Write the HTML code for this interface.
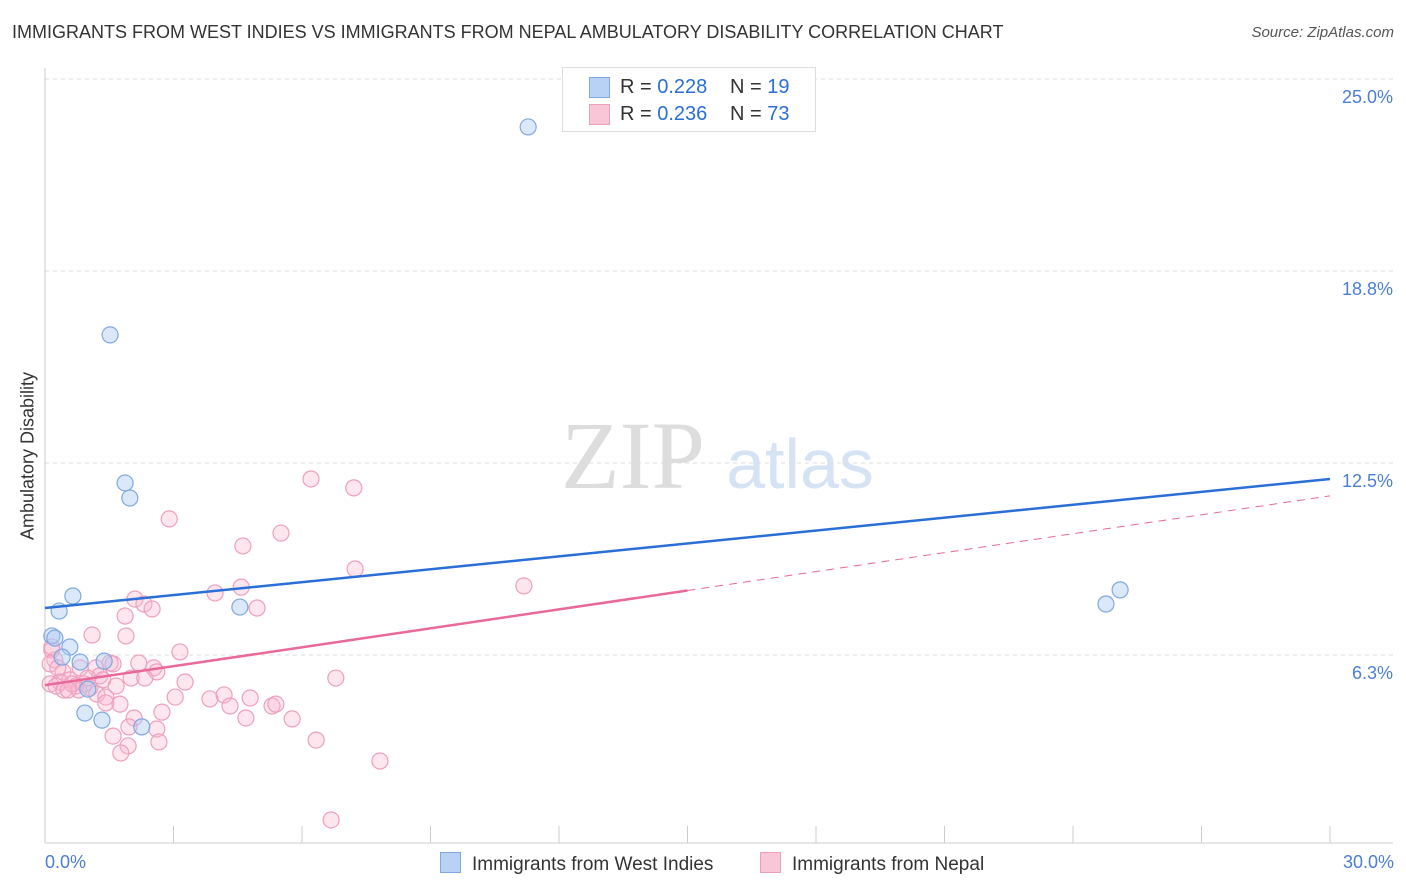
<!DOCTYPE html>
<html><head><meta charset="utf-8">
<style>
body{margin:0;background:#fff;font-family:"Liberation Sans",sans-serif;}
#wrap{position:relative;width:1406px;height:892px;overflow:hidden;}
.t{position:absolute;white-space:nowrap;}
</style></head>
<body>
<div id="wrap">
<div class="t" style="left:12px;top:22px;font-size:18px;color:#333;">IMMIGRANTS FROM WEST INDIES VS IMMIGRANTS FROM NEPAL AMBULATORY DISABILITY CORRELATION CHART</div>
<div class="t" style="right:12px;top:24px;font-size:15px;color:#555;font-style:italic;">Source: ZipAtlas.com</div>
<svg id="svg" width="1406" height="892" style="position:absolute;left:0;top:0;"></svg>
</div>
<script>
const yTicks=[25,18.75,12.5,6.25];
const yTickLabels=["25.0%","18.8%","12.5%","6.3%"];
const xTicks=[0,3,6,9,12,15,18,21,24,27,30];
const blueX=[11.28,1.52,1.87,1.98,0.65,0.33,4.55,0.16,0.23,0.58,0.40,0.82,1.38,1.00,0.93,1.33,2.26,24.77,25.10];
const blueY=[23.44,16.67,11.85,11.36,8.17,7.68,7.81,6.87,6.80,6.51,6.18,6.02,6.05,5.14,4.36,4.13,3.91,7.91,8.37];
const pinkX=[6.21,7.21,2.90,5.51,4.62,7.24,11.18,4.58,3.97,2.10,2.31,2.50,4.95,1.87,1.89,1.10,3.15,0.16,0.23,0.12,1.52,1.59,2.19,2.54,2.61,1.19,0.82,0.42,1.28,2.01,2.33,1.35,0.58,0.35,0.12,0.26,0.72,0.91,1.05,1.66,3.27,6.79,0.44,0.79,1.21,1.42,3.04,3.85,4.18,4.79,1.42,1.75,4.32,5.30,5.39,2.73,2.08,4.69,5.77,1.96,2.61,1.59,6.33,2.66,1.94,1.77,7.82,6.68,0.16,0.30,1.00,0.63,0.54];
const pinkY=[11.98,11.69,10.68,10.22,9.80,9.05,8.50,8.46,8.27,8.07,7.91,7.75,7.78,7.52,6.87,6.90,6.35,6.41,6.09,5.96,5.99,5.96,5.99,5.83,5.70,5.83,5.83,5.70,5.57,5.50,5.50,5.44,5.44,5.37,5.31,5.24,5.24,5.31,5.18,5.24,5.37,5.50,5.11,5.11,4.98,4.88,4.88,4.82,4.95,4.85,4.69,4.65,4.59,4.59,4.65,4.39,4.20,4.20,4.17,3.91,3.84,3.61,3.48,3.42,3.29,3.06,2.80,0.88,6.51,5.83,5.50,5.31,5.11];
const blueTrend=[7.78,11.98];
const pinkTrend=[5.27,11.43];
const pinkSolidEnd=15;

const sx=v=>45+v*(1285/30);
const sy=v=>847-v*30.72;
const svg=document.getElementById('svg');
const NS='http://www.w3.org/2000/svg';
function mk(tag,attrs){const e=document.createElementNS(NS,tag);for(const k in attrs)e.setAttribute(k,attrs[k]);svg.appendChild(e);return e;}

// watermark
let wm=mk('text',{x:633,y:488,'font-size':96,'font-family':'Liberation Serif,serif',fill:'#ddd','text-anchor':'middle'});
wm.textContent='ZIP';


let wm2=mk('text',{x:800,y:488,'font-size':70,'font-family':'Liberation Sans,sans-serif',fill:'#d5e3f5','text-anchor':'middle'});
wm2.textContent='atlas';



yTicks.forEach((v,i)=>{
  let g=mk('line',{x1:45,x2:1393,y1:sy(v),y2:sy(v),stroke:'#ddd','stroke-dasharray':'4,4'});
  
  
  let t=mk('text',{x:1393,y:sy(v)+24,'font-size':18,fill:'#4a7fd4','text-anchor':'end','font-family':'Liberation Sans,sans-serif'});
  t.textContent=yTickLabels[i];
  
  
});
let ax=mk('line',{x1:45,x2:1393,y1:843,y2:843,stroke:'#ccc'});


let ay=mk('line',{x1:45,x2:45,y1:68,y2:843,stroke:'#ccc'});


xTicks.forEach(v=>{
  let l=mk('line',{x1:sx(v),x2:sx(v),y1:826,y2:843,stroke:'#ccc'});
  
  
});

// pink points
pinkX.forEach((x,i)=>{
  let c=mk('circle',{cx:sx(x),cy:sy(pinkY[i]),r:8,fill:'rgba(248,183,206,0.35)',stroke:'#ee9fbd','stroke-width':1.2});
  
  
});
blueX.forEach((x,i)=>{
  let c=mk('circle',{cx:sx(x),cy:sy(blueY[i]),r:8,fill:'rgba(175,205,245,0.45)',stroke:'#7fa8e0','stroke-width':1.2});
  
  
});
// trends
const pAt=x=>pinkTrend[0]+(pinkTrend[1]-pinkTrend[0])*x/30;
let bt=mk('line',{x1:sx(0),y1:sy(blueTrend[0]),x2:sx(30),y2:sy(blueTrend[1]),stroke:'#2a6fd6','stroke-width':2.5});


let pt=mk('line',{x1:sx(0),y1:sy(pAt(0)),x2:sx(pinkSolidEnd),y2:sy(pAt(pinkSolidEnd)),stroke:'#e8699a','stroke-width':2.5});


let pd=mk('line',{x1:sx(pinkSolidEnd),y1:sy(pAt(pinkSolidEnd)),x2:sx(30),y2:sy(pAt(30)),stroke:'#e8699a','stroke-width':1,'stroke-dasharray':'8,6'});


</script>
<div class="t" style="left:28px;top:456px;font-size:18px;color:#333;transform:translate(-50%,-50%) rotate(-90deg);">Ambulatory Disability</div>
<div class="t" style="left:45px;top:852px;font-size:18px;color:#4a7fd4;">0.0%</div>
<div class="t" style="right:12px;top:852px;font-size:18px;color:#4a7fd4;">30.0%</div>
<div style="position:absolute;left:562px;top:67px;width:252px;height:63px;border:1px solid #ddd;background:#fff;font-size:20px;color:#333;">
 <div style="position:absolute;left:26px;top:8px;">
  <span style="position:absolute;left:0;top:1px;width:19px;height:19px;background:#b7d2f5;border:1px solid #7fa8e0;"></span>
  <span class="t" style="left:31px;top:0;">R = <span style="color:#2a6fd6">0.228</span></span>
  <span class="t" style="left:141px;top:0;">N = <span style="color:#2a6fd6">19</span></span>
 </div>
 <div style="position:absolute;left:26px;top:35px;">
  <span style="position:absolute;left:0;top:1px;width:19px;height:19px;background:#f9c6d8;border:1px solid #ee9fbd;"></span>
  <span class="t" style="left:31px;top:0;">R = <span style="color:#2a6fd6">0.236</span></span>
  <span class="t" style="left:141px;top:0;">N = <span style="color:#2a6fd6">73</span></span>
 </div>
</div>
<div style="position:absolute;left:440px;top:852px;font-size:19px;color:#333;">
 <span style="position:absolute;left:0;top:0;white-space:nowrap;"><span style="display:inline-block;width:19px;height:19px;background:#b7d2f5;border:1px solid #7fa8e0;vertical-align:-3px;margin-right:11px;"></span>Immigrants from West Indies</span>
 <span style="position:absolute;left:320px;top:0;white-space:nowrap;"><span style="display:inline-block;width:19px;height:19px;background:#f9c6d8;border:1px solid #ee9fbd;vertical-align:-3px;margin-right:11px;"></span>Immigrants from Nepal</span>
</div>
</body></html>
